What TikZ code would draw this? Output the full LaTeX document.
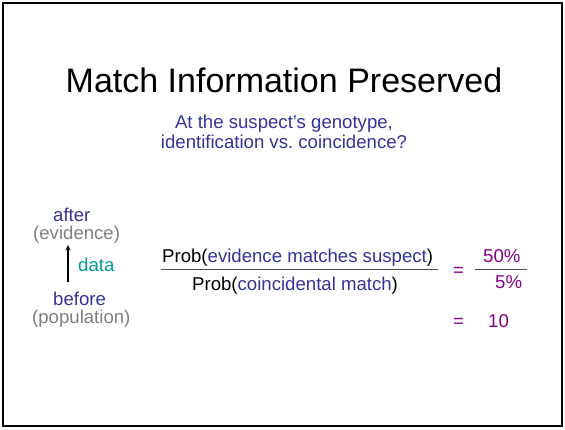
\documentclass[tikz,border=0pt]{standalone}
\usepackage{fontspec}
\setmainfont{Liberation Sans}
\usetikzlibrary{calc,positioning,arrows}
\definecolor{slideblue}{HTML}{333399}
\definecolor{slidegrey}{HTML}{808080}
\definecolor{slideteal}{HTML}{009999}
\definecolor{slidepurple}{HTML}{880088}
\tikzstyle{txt}   = [inner sep=0pt, anchor=base west, font=\fontsize{18.6}{20}\selectfont]
\tikzstyle{arrow} = [line width=1.4pt,->,>=stealth]
\tikzstyle{bar}   = [line width=0.8pt, black!70]

\begin{document}
\begin{tikzpicture}[x=1pt,y=-1pt]
		\useasboundingbox (0,0) rectangle (565,429);
		\draw[line width=2pt] (3,3) rectangle (562,426);
		\node[txt, anchor=base, font=\fontsize{34}{40}\selectfont] (title) at (284,92) {Match Information Preserved};
		\node[txt, anchor=base, text=slideblue] (question) at (284,128) {At the suspect's genotype,};
		\node[txt, anchor=base, text=slideblue] (question2) at (284,148) {identification vs.\ coincidence?};
		% left column
		\node[txt, text=slideblue] (after) at (53,221) {after};
		\node[txt, text=slidegrey] (evid) at (33,239) {(evidence)};
		\node[txt, text=slideblue] (before) at (53,305) {before};
		\node[txt, text=slidegrey] (popul) at (32,323) {(population)};
		\coordinate (lo) at (68,282);
		\coordinate (hi) at (68,245);
		\draw[arrow] (lo) -- (hi);
		\node[txt, text=slideteal] (data) at (78,271) {data};
		% ratio
		\node[txt] (num) at (162,262) {Prob(\textcolor{slideblue}{evidence matches suspect})};
		\node[txt] (den) at (192,290) {Prob(\textcolor{slideblue}{coincidental match})};
		\coordinate (barl) at (161,269);
		\coordinate (barr) at (438,269);
		\draw[bar] (barl) -- (barr);
		% values
		\node[txt, text=slidepurple] (eqa) at (453,276) {=};
		\node[txt, text=slidepurple] (fifty) at (483,262) {50\%};
		\node[txt, text=slidepurple] (five) at (495,288) {5\%};
		\coordinate (vall) at (475,269);
		\coordinate (valr) at (527,269);
		\draw[bar] (vall) -- (valr);
		\node[txt, text=slidepurple] (eqb) at (453,327) {=};
		\node[txt, text=slidepurple] (ten) at (488,327) {10};
	\end{tikzpicture}
\end{document}
